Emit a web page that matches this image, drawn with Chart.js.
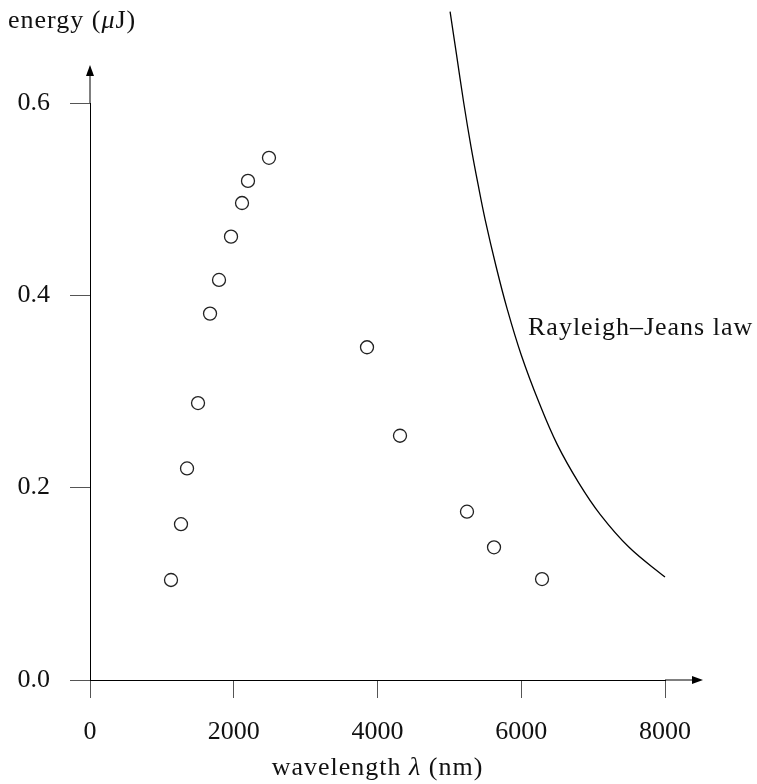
<!DOCTYPE html>
<html>
<head>
<meta charset="utf-8">
<script src="https://cdn.jsdelivr.net/npm/chart.js@4.4.1/dist/chart.umd.min.js"></script>
<style>
  body { margin: 0; background: #fff; }
  canvas { display: block; }
</style>
</head>
<body>
<canvas id="myChart" width="757" height="784"></canvas>
<script>
// measured points (wavelength in nm, energy in uJ)
const wavelength = [1127, 1266, 1350, 1503, 1670, 1795, 1962, 2115, 2198, 2490, 3854, 4313, 5245, 5621, 6289]
const energy = [0.104, 0.162, 0.220, 0.288, 0.381, 0.416, 0.461, 0.496, 0.519, 0.543, 0.346, 0.254, 0.175, 0.138, 0.105]

// Rayleigh-Jeans curve
const rjWavelength = [5010, 5100, 5200, 5300, 5400, 5500, 5650, 5800, 6000, 6250, 6500, 6800, 7100, 7500, 8000]
const rjEnergy = [0.695, 0.650, 0.600, 0.555, 0.515, 0.478, 0.430, 0.387, 0.338, 0.288, 0.245, 0.205, 0.172, 0.138, 0.107]

// axis ticks
const xTicks = [0, 2000, 4000, 6000, 8000]
const yTicks = [0.0, 0.2, 0.4, 0.6]
const yTickLabels = ['0.0', '0.2', '0.4', '0.6']

const curveLabel = 'Rayleigh–Jeans law'
const curveLabelAt = { x: 6094, y: 0.366 }

const serif = "'Liberation Serif', 'Times New Roman', serif"
const font = { family: serif, size: 26 }

// draws text runs like [['energy (', ''], ['μ', 'italic ']] one after another
function drawRuns (ctx, runs, x, y, align) {
  ctx.letterSpacing = '1px'
  let total = 0
  for (const [t, st] of runs) {
    ctx.font = st + '26px ' + serif
    total += ctx.measureText(t).width
  }
  if (align === 'center') x -= total / 2
  ctx.textAlign = 'left'
  for (const [t, st] of runs) {
    ctx.font = st + '26px ' + serif
    ctx.fillText(t, x, y)
    x += ctx.measureText(t).width
  }
  ctx.letterSpacing = '0px'
}

// arrows, axis titles and curve label
const axisExtras = {
  id: 'axisExtras',
  afterDraw (chart) {
    const ctx = chart.ctx
    const a = chart.chartArea
    ctx.save()
    ctx.strokeStyle = '#000'
    ctx.fillStyle = '#000'
    ctx.lineWidth = 1

    // x axis arrow
    const xTip = a.right + 38
    ctx.beginPath()
    ctx.moveTo(a.right, a.bottom)
    ctx.lineTo(xTip - 6, a.bottom)
    ctx.stroke()
    ctx.beginPath()
    ctx.moveTo(xTip, a.bottom)
    ctx.lineTo(xTip - 11, a.bottom - 4)
    ctx.lineTo(xTip - 11, a.bottom + 4)
    ctx.closePath()
    ctx.fill()

    // y axis arrow
    const yTip = a.top - 38
    ctx.beginPath()
    ctx.moveTo(a.left, a.top)
    ctx.lineTo(a.left, yTip + 6)
    ctx.stroke()
    ctx.beginPath()
    ctx.moveTo(a.left, yTip)
    ctx.lineTo(a.left - 4, yTip + 11)
    ctx.lineTo(a.left + 4, yTip + 11)
    ctx.closePath()
    ctx.fill()

    ctx.fillStyle = '#111'
    ctx.textBaseline = 'middle'
    // y title
    drawRuns(ctx, [['energy ', ''], ['(', ''], ['μ', 'italic '], ['J)', '']], 8, 21, 'left')
    // x title
    drawRuns(ctx, [['wavelength ', ''], ['λ', 'italic '], [' (nm)', '']], (a.left + a.right) / 2, 768, 'center')

    // curve label
    drawRuns(ctx, [[curveLabel, '']],
      chart.scales.x.getPixelForValue(curveLabelAt.x),
      chart.scales.y.getPixelForValue(curveLabelAt.y), 'left')
    ctx.restore()
  }
}

const ctx = document.getElementById('myChart').getContext('2d')
new Chart(ctx, {
  type: 'scatter',
  data: {
    datasets: [
      {
        label: 'measured',
        data: wavelength.map((w, i) => ({ x: w, y: energy[i] })),
        pointRadius: 6.5,
        pointHoverRadius: 6.5,
        pointBorderWidth: 1.3,
        borderColor: '#222',
        backgroundColor: 'rgba(255,255,255,0)',
        clip: false
      },
      {
        label: curveLabel,
        data: rjWavelength.map((w, i) => ({ x: w, y: rjEnergy[i] })),
        showLine: true,
        pointRadius: 0,
        borderColor: '#000',
        borderWidth: 1.3,
        tension: 0.4,
        clip: false
      }
    ]
  },
  options: {
    responsive: false,
    animation: false,
    devicePixelRatio: 1,
    layout: { padding: { top: 103, right: 92, left: 0, bottom: 0 } },
    plugins: { legend: { display: false }, tooltip: { enabled: false } },
    scales: {
      x: {
        type: 'linear',
        min: 0,
        max: 8000,
        afterBuildTicks: s => { s.ticks = xTicks.map(v => ({ value: v })) },
        afterFit: s => { s.height = 104 },
        ticks: { font: font, color: '#111', padding: 19, maxRotation: 0, callback: v => String(v) },
        grid: { drawOnChartArea: false, tickLength: 18, color: '#555', lineWidth: 1 },
        border: { color: '#000', width: 1 }
      },
      y: {
        type: 'linear',
        min: 0,
        max: 0.6,
        afterBuildTicks: s => { s.ticks = yTicks.map(v => ({ value: v })) },
        afterFit: s => { s.width = 90 },
        ticks: { font: font, color: '#111', padding: 20, callback: v => yTickLabels[yTicks.indexOf(v)] ?? v.toFixed(1) },
        grid: { drawOnChartArea: false, tickLength: 20, color: '#555', lineWidth: 1 },
        border: { color: '#000', width: 1 }
      }
    }
  },
  plugins: [axisExtras]
})
</script>
</body>
</html>
